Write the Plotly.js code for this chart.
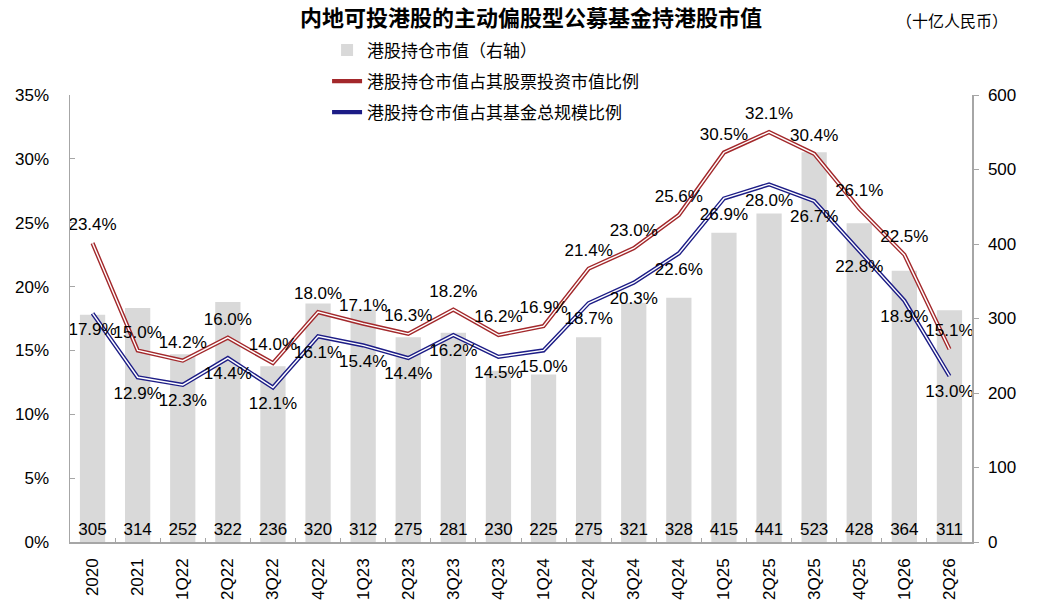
<!DOCTYPE html>
<html>
<head>
<meta charset="utf-8">
<script src="https://cdn.plot.ly/plotly-3.0.1.min.js"></script>
<style>html,body{margin:0;padding:0;background:#fff;}#chart{width:1037px;height:616px;}</style>
</head>
<body>
<div id="chart"></div>
<script>
const categories = ['2020','2021','1Q22','2Q22','3Q22','4Q22','1Q23','2Q23','3Q23','4Q23','1Q24','2Q24','3Q24','4Q24','1Q25','2Q25','3Q25','4Q25','1Q26','2Q26'];
const holdingValue = [305,314,252,322,236,320,312,275,281,230,225,275,321,328,415,441,523,428,364,311];
const ratioStock = [23.4,15.0,14.2,16.0,14.0,18.0,17.1,16.3,18.2,16.2,16.9,21.4,23.0,25.6,30.5,32.1,30.4,26.1,22.5,15.1];
const ratioFund = [17.9,12.9,12.3,14.4,12.1,16.1,15.4,14.4,16.2,14.5,15.0,18.7,20.3,22.6,26.9,28.0,26.7,22.8,18.9,13.0];
const seriesNames = ['港股持仓市值（右轴）','港股持仓市值占其股票投资市值比例','港股持仓市值占其基金总规模比例'];

const FONT = 'Liberation Sans, Arial, Noto Sans CJK SC, sans-serif';
const CJK = 'Noto Sans CJK SC, sans-serif';
const pct = v => v.toFixed(1) + '%';

const traces = [
  {
    type: 'bar', x: categories, y: holdingValue, yaxis: 'y', name: seriesNames[0], legendgroup: 'g1',
    marker: {color: '#d9d9d9'},
    text: holdingValue.map(String), textposition: 'inside', insidetextanchor: 'start',
    textangle: 0, constraintext: 'none',
    textfont: {family: FONT, size: 17, color: '#000'}, hoverinfo: 'skip'
  },
  {
    type: 'scatter', mode: 'lines', x: categories, y: ratioStock, yaxis: 'y2', name: seriesNames[1], legendgroup: 'g2',
    line: {color: '#a3282b', width: 4.2}, hoverinfo: 'skip'
  },
  {
    type: 'scatter', mode: 'lines+markers+text', x: categories, y: ratioStock, yaxis: 'y2', showlegend: false, legendgroup: 'g2',
    line: {color: '#ffffff', width: 1.4},
    marker: {size: 12, color: 'rgba(0,0,0,0)'},
    text: ratioStock.map(pct), textposition: 'top center',
    textfont: {family: FONT, size: 17, color: '#000'}, hoverinfo: 'skip'
  },
  {
    type: 'scatter', mode: 'lines', x: categories, y: ratioFund, yaxis: 'y2', name: seriesNames[2], legendgroup: 'g3',
    line: {color: '#1c1c86', width: 4.2}, hoverinfo: 'skip'
  },
  {
    type: 'scatter', mode: 'lines+markers+text', x: categories, y: ratioFund, yaxis: 'y2', showlegend: false, legendgroup: 'g3',
    line: {color: '#ffffff', width: 1.4},
    marker: {size: 12, color: 'rgba(0,0,0,0)'},
    text: ratioFund.map(pct), textposition: 'bottom center',
    textfont: {family: FONT, size: 17, color: '#000'}, hoverinfo: 'skip'
  }
];

const layout = {
  width: 1037, height: 616,
  margin: {l: 70, r: 65, t: 95, b: 74},
  paper_bgcolor: '#fff', plot_bgcolor: 'rgba(0,0,0,0)',
  font: {family: FONT, size: 17, color: '#000'},
  bargap: 0.44,
  showlegend: true,
  title: {
    text: '<b>内地可投港股的主动偏股型公募基金持港股市值</b>',
    font: {family: CJK, size: 22, color: '#000'},
    x: 0.511, xanchor: 'center', xref: 'paper', y: 0.97, yanchor: 'middle', yref: 'container'
  },
  legend: {
    x: 0.285, xanchor: 'left', y: 1.14, yanchor: 'top',
    font: {family: CJK, size: 17, color: '#000'},
    bgcolor: 'rgba(0,0,0,0)', traceorder: 'grouped', itemwidth: 30,
    tracegroupgap: 6
  },
  xaxis: {
    type: 'category', range: [-0.5, categories.length - 0.5], showline: true, linecolor: '#a6a6a6', linewidth: 1.5,
    ticks: 'inside', ticklen: 4, tickcolor: '#a6a6a6', tickson: 'boundaries',
    tickangle: -90, tickfont: {family: FONT, size: 17}, showgrid: false, zeroline: false,
    ticklabelstandoff: 8, fixedrange: true
  },
  yaxis: {
    side: 'right', range: [0, 600], dtick: 100, showline: true, linecolor: '#a6a6a6', linewidth: 1.5,
    ticks: 'outside', ticklen: 5, tickcolor: '#a6a6a6', showgrid: false, zeroline: false,
    tickfont: {family: FONT, size: 17}, ticklabelstandoff: 6
  },
  yaxis2: {
    side: 'left', overlaying: 'y', range: [0, 35], dtick: 5, ticksuffix: '%',
    showline: true, linecolor: '#a6a6a6', linewidth: 1.5,
    ticks: 'inside', ticklen: 5, tickcolor: '#a6a6a6', showgrid: false, zeroline: false,
    tickfont: {family: FONT, size: 17}, ticklabelstandoff: 16
  },
  annotations: [{
    text: '（十亿人民币）', xref: 'paper', yref: 'paper', x: 0.978, y: 1.168,
    xanchor: 'center', yanchor: 'middle', showarrow: false,
    font: {family: CJK, size: 16, color: '#000'}
  }]
};

Plotly.newPlot('chart', traces, layout, {displayModeBar: false, staticPlot: true});
</script>
</body>
</html>
